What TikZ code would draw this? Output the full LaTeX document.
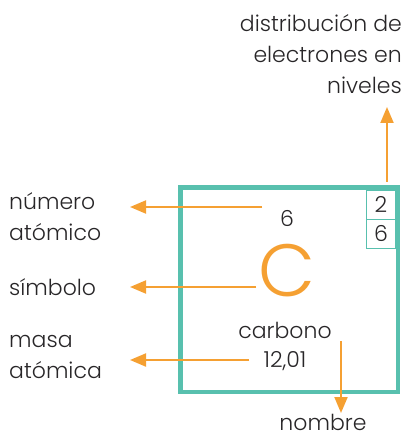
\documentclass[tikz,border=0pt]{standalone}
\usepackage{fontspec}
\setmainfont{Poppins}[UprightFont=* Light]
\usepackage{tikz}
\usetikzlibrary{arrows.meta}

\definecolor{cellteal}{RGB}{88,192,174}
\definecolor{arroworange}{RGB}{245,160,50}
\definecolor{inkgray}{RGB}{40,38,40}

\begin{document}
\begin{tikzpicture}[x=1pt,y=-1pt,
                    font=\fontsize{22}{31}\selectfont,text=inkgray,
                    lbl/.style={inner sep=0pt,align=left},
                    pointer/.style={-{Triangle[length=16pt,width=13pt]},
                                    draw=arroworange,fill=arroworange,line width=2pt}]
  \useasboundingbox (0,0) rectangle (415,438);

  % the cell
  \node[draw=cellteal,line width=4.5pt,minimum width=217.5pt,
        minimum height=204.5pt,inner sep=0pt] (cell) at (289,289.5) {};
  \node[draw=cellteal,line width=0.8pt,minimum width=29pt,minimum height=29pt,
        inner sep=0pt] (shellA) at (381,204.5) {2};
  \node[draw=cellteal,line width=0.8pt,minimum width=29pt,minimum height=29pt,
        inner sep=0pt] (shellB) at (381,233.5) {6};

  \node[anchor=base] (znum)  at (287,226) {6};
  \node[text=arroworange,font=\fontsize{74}{74}\selectfont,inner sep=0pt]
        (sym) at (287,271) {C};
  \node[anchor=base] (name)  at (285,338) {carbono};
  \node[anchor=base] (mass)  at (285,367) {12,01};

  % labels
  \node[lbl,anchor=base west] (numlbl)  at (9,240)  {número\\atómico};
  \node[lbl,anchor=base west] (symlbl)  at (9,295)  {símbolo};
  \node[lbl,anchor=base west] (masslbl) at (9,378)  {masa\\atómica};
  \node[lbl,anchor=base east,align=right] (distlbl) at (402,94)
        {distribución de\\electrones en\\niveles};
  \node[inner sep=0pt,anchor=base] (namelbl) at (323,430) {nombre};

  \coordinate (numfrom)  at (262,207);
  \coordinate (numto)    at (130,207);
  \coordinate (symfrom)  at (256,287);
  \coordinate (symto)    at (130,287);
  \coordinate (massfrom) at (249,360);
  \coordinate (massto)   at (130,360);
  \coordinate (namefrom) at (341,341);
  \coordinate (nameto)   at (341,413);
  \coordinate (distfrom) at (387,182);
  \coordinate (distto)   at (387,107);

  \draw[pointer] (numfrom)  -- (numto);
  \draw[pointer] (symfrom)  -- (symto);
  \draw[pointer] (massfrom) -- (massto);
  \draw[pointer] (namefrom) -- (nameto);
  \draw[pointer] (distfrom) -- (distto);

\end{tikzpicture}
\end{document}
